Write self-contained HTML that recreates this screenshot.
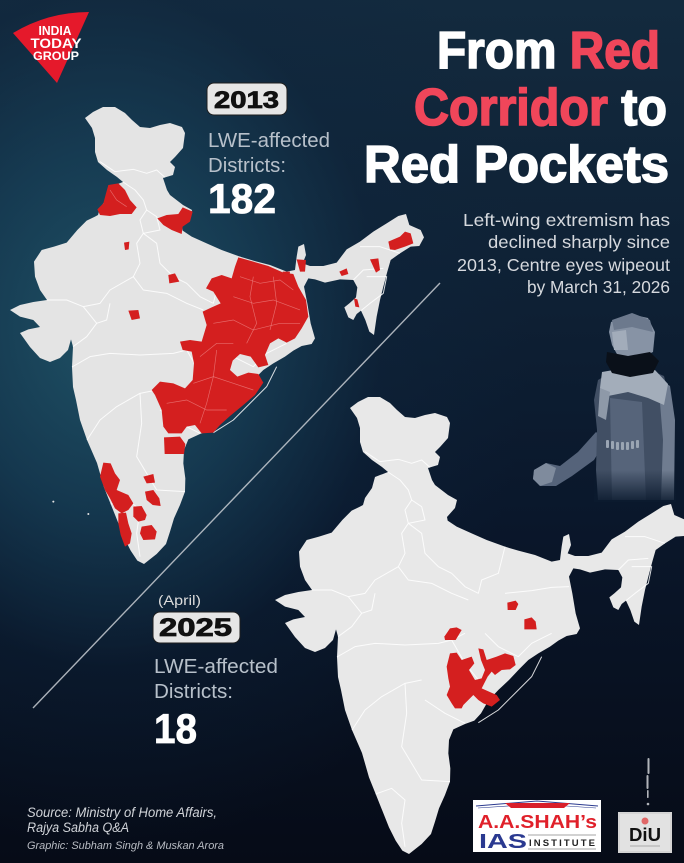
<!DOCTYPE html>
<html><head><meta charset="utf-8">
<style>
html,body{margin:0;padding:0;}
body{width:684px;height:863px;overflow:hidden;background:#08101f;}
#c{position:relative;width:684px;height:863px;overflow:hidden;
background:
radial-gradient(ellipse 420px 520px at 110px 330px, rgba(32,84,104,0.95) 0%, rgba(24,66,90,0.75) 35%, rgba(14,38,62,0.35) 65%, rgba(10,25,45,0) 100%),
linear-gradient(180deg,#132a3e 0%,#0e2034 35%,#0a172b 60%,#060b17 100%);}
svg{position:absolute;left:0;top:0;}
text{font-family:"Liberation Sans",Arial,sans-serif;}
</style></head><body><div id="c">
<svg width="684" height="863" viewBox="0 0 684 863" xmlns="http://www.w3.org/2000/svg">
<defs>
<path id="india" d="M255,84 L279,66 L309,51 L345,51 L375,69 L396,90 L420,111 L450,114 L480,105 L510,99 L546,111 L555,129 L549,174 L525,201 L510,216 L525,231 L519,255 L489,264 L501,300 L510,315 L549,345 L576,360 L570,384 L546,411 L548,422 L575,440 L620,460 L665,480 L720,500 L760,512 L810,525 L860,545 L885,540 L890,500 L895,470 L912,462 L918,495 L908,520 L930,528 L970,528 L1010,518 L1040,478 L1080,455 L1120,425 L1160,400 L1195,378 L1218,372 L1228,405 L1262,420 L1272,442 L1258,468 L1232,470 L1200,490 L1172,510 L1162,545 L1150,590 L1140,630 L1130,680 L1122,735 L1108,725 L1096,690 L1083,662 L1070,672 L1060,690 L1045,682 L1033,652 L1048,640 L1068,622 L1072,592 L1060,570 L1020,568 L975,578 L945,568 L925,565 L912,590 L922,640 L932,700 L945,745 L935,762 L905,768 L880,782 L855,800 L820,820 L790,840 L762,868 L732,900 L700,930 L670,962 L648,1000 L628,1022 L600,1032 L565,1048 L552,1080 L550,1120 L556,1165 L555,1205 L540,1245 L522,1285 L510,1325 L498,1362 L470,1392 L432,1422 L412,1412 L392,1382 L372,1342 L352,1292 L332,1242 L312,1192 L291,1119 L261,1050 L240,990 L228,930 L219,891 L216,831 L219,770 L213,748 L204,780 L180,804 L150,816 L120,804 L90,771 L60,729 L85,718 L120,711 L100,690 L60,680 L30,660 L60,645 L100,636 L141,630 L120,600 L105,560 L102,515 L125,480 L162,470 L200,458 L232,420 L260,392 L285,380 L294,375 L300,354 L321,324 L330,291 L369,276 L351,261 L321,240 L294,216 L285,186 L285,144 L276,114 Z"/>
<g id="borders" fill="none" stroke="#ffffff" stroke-width="3" stroke-opacity="0.85" stroke-linejoin="round">
<path d="M300,215 L345,245 L400,238 L440,250 L470,240 L495,262"/>
<path d="M369,276 L405,300 L430,330 L440,360 L420,390 L430,430 L410,460 L420,520 L400,560 L330,600 L300,640 L250,650"/>
<path d="M440,360 L470,380 L480,420 L430,430"/>
<path d="M430,430 L470,460 L480,520 L520,560 L560,580 L600,620 L640,640 L650,600 L700,580 L720,500"/>
<path d="M141,630 L200,630 L250,650 L290,700 L320,690 L330,640"/>
<path d="M290,700 L260,740 L219,770"/>
<path d="M216,831 L270,800 L330,790 L420,795 L520,790 L560,780 L600,760"/>
<path d="M400,560 L430,600 L500,610 L560,640 L610,660"/>
<path d="M261,1050 L300,990 L350,950 L420,910 L470,900"/>
<path d="M420,910 L425,1000 L410,1100 L440,1150 L470,1200 L555,1205"/>
<path d="M332,1242 L380,1225 L420,1260 L410,1330 L420,1400"/>
<path d="M640,1028 L700,990 L760,930 L800,890 L830,830"/>
<path d="M720,640 L800,632 L860,622 L912,620"/>
<path d="M660,760 L700,800 L760,830 L800,790 L860,760"/>
<path d="M480,960 L540,1000 L600,1030"/>
<path d="M560,780 L600,850 L640,900 L660,960"/>
<path d="M1060,570 L1090,540 L1150,535"/>
<path d="M1100,560 L1160,560 L1150,610 L1110,640 L1083,662"/>
<path d="M1200,490 L1140,470 L1080,470"/>
</g>
<linearGradient id="fade" x1="0" y1="0" x2="0" y2="1">
<stop offset="0" stop-color="#0b1a2e" stop-opacity="0"/>
<stop offset="1" stop-color="#0b1a2e" stop-opacity="0.9"/>
</linearGradient>
</defs>

<!-- diagonal line -->
<line x1="440" y1="283" x2="33" y2="708" stroke="#c8ccd2" stroke-width="1.4" stroke-opacity="0.85"/>

<!-- MAP 1 (2013) -->
<g transform="translate(0,90) scale(0.33333)">
<use href="#india" fill="#e4e4e4"/>
<use href="#borders"/>
<g fill="#d41f1f">
<path d="M715,502 L760,515 L805,528 L850,548 L880,552 L895,590 L918,630 L925,680 L905,715 L885,745 L860,758 L835,745 L810,760 L795,795 L805,825 L775,832 L752,800 L720,792 L698,812 L690,840 L712,860 L745,848 L775,852 L790,878 L765,915 L730,945 L690,978 L660,1005 L640,1028 L605,1030 L585,1005 L560,1010 L545,1030 L505,1030 L490,1010 L485,960 L465,915 L455,900 L480,875 L520,880 L555,895 L578,870 L582,820 L575,785 L548,780 L540,755 L570,750 L605,755 L620,705 L608,665 L635,652 L662,640 L640,605 L618,595 L635,565 L665,555 L695,565 L705,530 Z"/>
<path d="M492,1042 L540,1040 L556,1062 L552,1092 L494,1092 Z"/>
<path d="M325,285 L355,280 L375,300 L390,330 L410,352 L395,372 L360,372 L330,378 L300,375 L292,358 L310,340 L318,310 Z"/>
<path d="M472,385 L500,375 L535,372 L548,352 L578,365 L570,395 L548,410 L545,432 L515,420 L490,405 Z"/>
<path d="M372,458 L388,455 L386,478 L375,480 Z"/>
<path d="M505,555 L525,550 L538,575 L508,580 Z"/>
<path d="M385,662 L415,660 L420,685 L395,690 Z"/>
<path d="M890,508 L918,510 L915,545 L900,545 Z"/>
<path d="M848,545 L870,545 L868,562 L850,560 Z"/>
<path d="M1165,455 L1200,440 L1215,425 L1232,430 L1240,460 L1215,470 L1185,480 L1170,478 Z"/>
<path d="M1110,508 L1135,505 L1140,540 L1128,548 Z"/>
<path d="M1018,545 L1040,535 L1045,552 L1025,558 Z"/>
<path d="M1062,625 L1072,628 L1078,652 L1066,650 Z"/>
<path d="M310,1118 L332,1120 L345,1150 L360,1170 L350,1200 L385,1215 L400,1240 L385,1260 L365,1270 L345,1255 L330,1225 L315,1200 L300,1160 Z"/>
<path d="M355,1270 L378,1268 L385,1300 L395,1330 L390,1360 L375,1370 L362,1335 L355,1300 Z"/>
<path d="M400,1250 L425,1248 L440,1275 L435,1290 L415,1295 L400,1280 Z"/>
<path d="M430,1160 L460,1152 L465,1178 L440,1180 Z"/>
<path d="M435,1205 L460,1200 L478,1225 L482,1248 L458,1245 L440,1230 Z"/>
<path d="M425,1310 L455,1305 L470,1325 L465,1348 L430,1350 L420,1330 Z"/>
</g>
<g fill="none" stroke="#f08a8a" stroke-width="2" stroke-opacity="0.7">
<path d="M720,560 L780,580 L840,570 L880,600"/>
<path d="M700,620 L760,640 L820,630 L900,660"/>
<path d="M640,700 L700,690 L760,720 L840,700 L900,700"/>
<path d="M600,800 L650,760 L700,760"/>
<path d="M580,880 L640,860 L700,880 L760,900"/>
<path d="M500,940 L560,930 L620,960 L680,960"/>
<path d="M760,560 L750,620 L770,700 L740,760"/>
<path d="M820,560 L830,640 L810,720"/>
<path d="M650,780 L640,860 L620,940 L600,1000"/>
<path d="M330,300 L350,330 L380,350"/>
</g>
<circle cx="160" cy="1235" r="3" fill="#e4e4e4"/>
<circle cx="265" cy="1272" r="3" fill="#e4e4e4"/>
</g>

<!-- Soldier -->
<g>
<path d="M534,470 L546,463 L560,466 L578,452 L596,432 L606,440 L594,460 L572,476 L556,486 L541,486 L533,479 Z" fill="#55637a"/>
<path d="M534,470 L546,463 L556,468 L552,482 L540,486 L533,479 Z" fill="#7f8b9d"/>
<path d="M598,380 L615,370 L645,368 L664,376 L670,400 L673,440 L674,500 L598,500 L596,470 L597,430 L594,400 Z" fill="#414f64"/>
<path d="M610,398 L642,402 L646,500 L612,500 Z" fill="#56647a"/>
<path d="M658,378 L670,386 L675,420 L674,500 L661,500 L663,440 Z" fill="#6f7c90"/>
<path d="M602,372 L625,368 L655,370 L668,384 L664,405 L648,398 L628,392 L608,396 L600,388 Z" fill="#a3adba"/>
<path d="M600,388 L610,392 L606,420 L598,416 Z" fill="#8e99a8"/>
<g fill="#9aa5b3">
<rect x="606" y="440" width="3" height="8" rx="1"/><rect x="611" y="441" width="3" height="8" rx="1"/>
<rect x="616" y="442" width="3" height="8" rx="1"/><rect x="621" y="442" width="3" height="8" rx="1"/>
<rect x="626" y="442" width="3" height="8" rx="1"/><rect x="631" y="441" width="3" height="8" rx="1"/>
<rect x="636" y="440" width="3" height="8" rx="1"/>
</g>
<path d="M611,322 L630,314 L648,318 L655,332 L653,352 L640,358 L618,356 L612,345 L609,332 Z" fill="#8793a5"/>
<path d="M612,320 L632,313 L650,320 L653,332 L632,327 L614,330 Z" fill="#6c798d"/>
<path d="M612,332 L626,330 L628,350 L614,350 Z" fill="#a2acba"/>
<path d="M607,352 L628,356 L650,352 L659,361 L653,373 L630,377 L612,373 L606,362 Z" fill="#0a1019"/>
<rect x="594" y="470" width="82" height="32" fill="url(#fade)"/>
</g>

<!-- MAP 2 (2025) -->
<g transform="translate(265,380) scale(0.33333)">
<use href="#india" fill="#e8e8e8"/>
<use href="#borders"/>
<g fill="#d41f1f">
<path d="M727,668 L752,662 L760,672 L752,690 L728,690 Z"/>
<path d="M778,718 L800,712 L812,725 L815,748 L778,748 Z"/>
<path d="M538,770 L555,745 L575,742 L590,750 L572,780 L540,780 Z"/>
<path d="M555,820 L575,818 L590,840 L620,830 L628,850 L612,870 L630,900 L650,895 L660,870 L648,840 L640,805 L655,808 L665,840 L695,830 L720,820 L745,828 L752,855 L735,868 L710,870 L690,885 L680,875 L668,890 L650,925 L672,935 L695,945 L705,960 L680,980 L655,970 L640,960 L625,945 L610,960 L595,975 L590,985 L570,985 L560,970 L545,945 L555,920 L550,895 L545,860 Z"/>
</g>
</g>
<g fill="#cfd2d6" opacity="0.85">
<rect x="647.5" y="758" width="2" height="16" rx="1"/>
<rect x="646.5" y="775" width="2" height="14" rx="1"/>
<rect x="647" y="790" width="1.6" height="8" rx="0.8"/>
<circle cx="648" cy="804" r="1.3"/>
</g>

<!-- India Today logo -->
<path d="M13,33 Q48,12 89,12 L57,83 Z" fill="#e5192b"/>
<text x="55" y="35" font-size="13" font-weight="bold" fill="#fff" text-anchor="middle" textLength="33" lengthAdjust="spacingAndGlyphs">INDIA</text>
<text x="56" y="48" font-size="14" font-weight="bold" fill="#fff" text-anchor="middle" textLength="51" lengthAdjust="spacingAndGlyphs">TODAY</text>
<text x="56" y="60" font-size="12" font-weight="bold" fill="#fff" text-anchor="middle" textLength="46" lengthAdjust="spacingAndGlyphs">GROUP</text>

<!-- Title -->
<g font-weight="bold" font-size="52" stroke-width="1.6">
<text x="437" y="68" textLength="223" lengthAdjust="spacingAndGlyphs"><tspan fill="#ffffff" stroke="#ffffff">From </tspan><tspan fill="#f0465a" stroke="#f0465a">Red</tspan></text>
<text x="414" y="125" textLength="253" lengthAdjust="spacingAndGlyphs"><tspan fill="#f0465a" stroke="#f0465a">Corridor</tspan><tspan fill="#ffffff" stroke="#ffffff"> to</tspan></text>
<text x="364" y="182" textLength="305" lengthAdjust="spacingAndGlyphs" fill="#ffffff" stroke="#ffffff">Red Pockets</text>
</g>

<!-- Subtitle -->
<g font-size="17.5" fill="#d6d9de" text-anchor="end">
<text x="670" y="226" textLength="207" lengthAdjust="spacingAndGlyphs">Left-wing extremism has</text>
<text x="670" y="248" textLength="182" lengthAdjust="spacingAndGlyphs">declined sharply since</text>
<text x="670" y="271" textLength="213" lengthAdjust="spacingAndGlyphs">2013, Centre eyes wipeout</text>
<text x="670" y="293" textLength="143" lengthAdjust="spacingAndGlyphs">by March 31, 2026</text>
</g>

<!-- 2013 block -->
<rect x="207" y="83" width="80" height="32" rx="7" fill="#e6e6e6" stroke="#1e1e1e" stroke-width="1"/>
<text x="214" y="108" font-size="24" font-weight="bold" fill="#111" stroke="#111" stroke-width="0.8" textLength="65" lengthAdjust="spacingAndGlyphs">2013</text>
<text x="208" y="147" font-size="20" fill="#b7c0ca" textLength="122" lengthAdjust="spacingAndGlyphs">LWE-affected</text>
<text x="208" y="172" font-size="20" fill="#b7c0ca" textLength="78" lengthAdjust="spacingAndGlyphs">Districts:</text>
<text x="208" y="213" font-size="42" font-weight="bold" fill="#ffffff" stroke="#fff" stroke-width="0.8" textLength="68" lengthAdjust="spacingAndGlyphs">182</text>

<!-- 2025 block -->
<text x="158" y="605" font-size="14" fill="#dcdcdc" textLength="43" lengthAdjust="spacingAndGlyphs">(April)</text>
<rect x="153" y="612" width="87" height="31" rx="7" fill="#e6e6e6" stroke="#1e1e1e" stroke-width="1"/>
<text x="159" y="636" font-size="25" font-weight="bold" fill="#111" stroke="#111" stroke-width="0.8" textLength="73" lengthAdjust="spacingAndGlyphs">2025</text>
<text x="154" y="673" font-size="20" fill="#b7c0ca" textLength="124" lengthAdjust="spacingAndGlyphs">LWE-affected</text>
<text x="154" y="698" font-size="20" fill="#b7c0ca" textLength="79" lengthAdjust="spacingAndGlyphs">Districts:</text>
<text x="154" y="743" font-size="42" font-weight="bold" fill="#ffffff" stroke="#fff" stroke-width="0.8" textLength="43" lengthAdjust="spacingAndGlyphs">18</text>

<!-- Source -->
<text x="27" y="817" font-size="13.5" font-style="italic" fill="#d0d3d8" textLength="190" lengthAdjust="spacingAndGlyphs">Source: Ministry of Home Affairs,</text>
<text x="27" y="832" font-size="13.5" font-style="italic" fill="#d0d3d8" textLength="102" lengthAdjust="spacingAndGlyphs">Rajya Sabha Q&amp;A</text>
<text x="27" y="849" font-size="11" font-style="italic" fill="#b9bdc4" textLength="197" lengthAdjust="spacingAndGlyphs">Graphic: Subham Singh &amp; Muskan Arora</text>

<!-- AA Shah logo -->
<rect x="473" y="800" width="128" height="52" fill="#ffffff"/>
<polyline points="476,806 537,801 598,806" fill="none" stroke="#2b3a8f" stroke-width="1"/>
<polyline points="478,808 537,804 596,808" fill="none" stroke="#2b3a8f" stroke-width="0.6"/>
<path d="M505,803 L570,803 L564,808 L511,808 Z" fill="#d81e2a"/>
<text x="478" y="828" font-size="18" font-weight="bold" fill="#e0202a" textLength="119" lengthAdjust="spacingAndGlyphs">A.A.SHAH’s</text>
<text x="479" y="848" font-size="20" font-weight="bold" fill="#2a3990" textLength="48" lengthAdjust="spacingAndGlyphs">IAS</text>
<line x1="528" y1="835" x2="596" y2="835" stroke="#888" stroke-width="0.8"/>
<line x1="528" y1="849" x2="596" y2="849" stroke="#888" stroke-width="0.8"/>
<text x="529" y="846" font-size="9.5" font-weight="bold" fill="#222" textLength="66" lengthAdjust="spacing">INSTITUTE</text>

<!-- DiU logo -->
<rect x="618" y="812" width="54" height="41" fill="#d4d4d4"/>
<rect x="620" y="814" width="50" height="37" fill="#e2e2e2"/>
<circle cx="645" cy="821" r="3.5" fill="#e04848" opacity="0.8"/>
<text x="645" y="841" font-size="18" font-weight="bold" fill="#111" text-anchor="middle" textLength="32" lengthAdjust="spacingAndGlyphs">DiU</text>
<line x1="630" y1="846" x2="660" y2="846" stroke="#999" stroke-width="0.8"/>
</svg>
</div></body></html>
